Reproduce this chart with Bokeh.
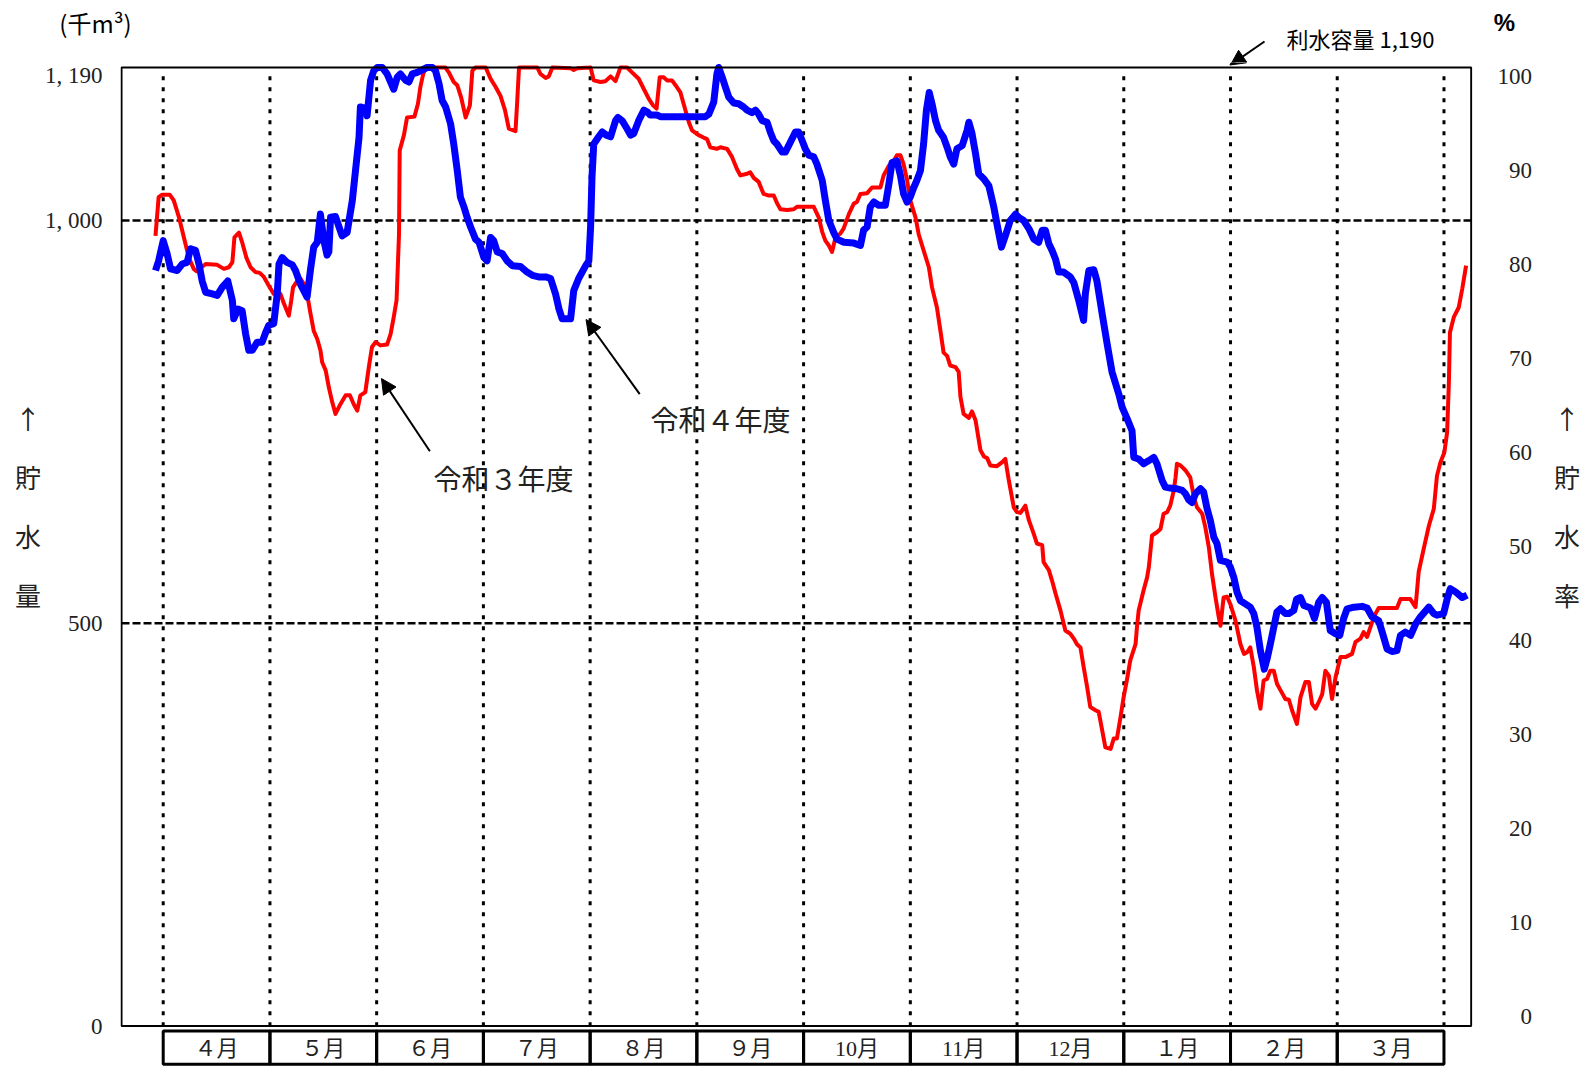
from bokeh.plotting import figure
from bokeh.layouts import column
from bokeh.models import (Range1d, LinearAxis, FixedTicker, Label, Arrow, NormalHead)
from bokeh.core.properties import value
from bokeh.embed import file_html
from bokeh.resources import INLINE

# ---------------- data (千m3, x = day position from 4/1 on a uniform month scale) ----------------
month_labels = ["４月", "５月", "６月", "７月", "８月", "９月", "10月", "11月", "12月", "１月", "２月", "３月"]
month_edges = [0, 30.42, 60.83, 91.25, 121.67, 152.08, 182.5, 212.92, 243.33, 273.75, 304.17, 334.58, 365]

left_ticks = [0, 500, 1000, 1190]
left_tick_text = ["0", "500", "1, 000", "1, 190"]
right_ticks = [0, 10, 20, 30, 40, 50, 60, 70, 80, 90, 100]
capacity = 1190

# 令和3年度 (red)
red_day = [-2.2, -1.3, -0.3, 1.9, 3.0, 4.5, 5.9, 7.3, 8.7, 9.5, 12.1, 15.4, 17.3, 18.7, 19.7, 20.3, 21.6,
           22.5, 23.7, 24.9, 26.3, 27.5, 28.7, 30.1, 31.5, 33.4, 34.4, 35.8, 36.5, 37.0, 38.2, 39.1, 40.1,
           41.0, 42.0, 42.9, 43.9, 44.8, 45.3, 46.3, 47.2, 48.2, 49.1, 50.5, 52.0, 53.2, 54.3, 55.3, 56.2,
           57.6, 58.6, 59.5, 60.5, 61.9, 63.8, 64.8, 65.7, 66.5, 67.2, 67.4, 68.6, 69.5, 71.6, 72.6, 73.3,
           74.1, 74.8, 80.4, 81.4, 82.8, 83.8, 84.9, 86.2, 87.4, 88.1, 89.0, 91.9, 93.3, 94.7, 96.1, 97.4,
           98.5, 100.4, 100.9, 101.4, 106.6, 107.5, 109.0, 109.9, 110.9, 116.1, 117.0, 118.0, 121.8, 122.7,
           124.6, 126.0, 127.5, 128.9, 130.3, 132.2, 133.6, 135.5, 137.0, 138.4, 139.6, 140.6, 141.5, 142.6,
           143.6, 145.0, 146.0, 147.4, 148.3, 149.8, 150.7, 152.6, 154.0, 155.0, 155.9, 157.8, 158.8, 160.7,
           162.1, 163.5, 164.5, 166.4, 167.3, 168.3, 169.7, 171.1, 172.6, 174.0, 175.0, 175.9, 177.8, 179.7,
           180.6, 185.4, 186.8, 187.8, 188.7, 189.7, 190.6, 191.6, 193.0, 193.9, 195.4, 196.8, 197.7, 198.7,
           200.6, 202.0, 204.4, 205.3, 206.8, 208.2, 209.1, 210.1, 211.0, 212.0, 212.9, 214.4, 215.3, 216.7,
           218.2, 219.1, 220.5, 221.5, 222.4, 223.4, 224.3, 225.8, 226.7, 227.2, 228.1, 229.6, 230.5, 231.5,
           232.9, 233.9, 234.8, 235.7, 237.6, 239.1, 240.0, 241.0, 242.4, 243.3, 244.3, 245.7, 246.7, 248.1,
           249.0, 250.5, 250.9, 252.4, 253.3, 254.3, 255.7, 257.1, 258.5, 259.5, 260.4, 261.4, 262.3, 263.3,
           264.2, 265.7, 266.6, 267.6, 268.5, 270.0, 270.9, 271.8, 272.8, 273.7, 274.7, 275.6, 277.1, 277.5,
           278.0, 279.4, 280.4, 280.9, 281.8, 283.2, 284.2, 285.1, 286.1, 287.0, 288.0, 288.5, 288.9, 289.9,
           291.3, 292.7, 293.7, 294.6, 296.1, 297.0, 298.0, 298.9, 299.9, 300.8, 301.3, 302.2, 303.2, 304.1,
           305.6, 307.0, 308.0, 308.9, 309.8, 310.8, 311.7, 312.7, 313.6, 314.6, 315.5, 316.5, 317.4, 318.4,
           319.8, 320.8, 321.7, 323.1, 324.1, 325.5, 326.5, 327.4, 328.4, 329.3, 330.3, 331.2, 332.2, 333.1,
           334.1, 335.5, 336.9, 338.8, 339.8, 341.2, 342.1, 343.1, 344.5, 345.5, 346.4, 351.6, 352.6, 355.4,
           356.9, 357.8, 359.2, 360.7, 362.1, 363.0, 364.0, 365.1, 365.9, 366.4, 366.7, 367.8, 369.2, 370.2,
           371.3]
red_val = [981, 1029, 1032, 1032, 1025, 1004, 979, 954, 940, 937, 946, 945, 940, 942, 948, 979, 985,
           973, 954, 942, 936, 935, 930, 919, 909, 909, 897, 882, 901, 917, 925, 928, 921,
           909, 884, 863, 853, 839, 824, 814, 793, 774, 760, 772, 783, 783, 772, 764, 783,
           787, 818, 843, 849, 845, 846, 859, 880, 901, 983, 1087, 1106, 1128, 1129, 1145, 1166,
           1182, 1190, 1190, 1184, 1172, 1168, 1153, 1128, 1143, 1186, 1190, 1190, 1176, 1166, 1155, 1137,
           1114, 1111, 1149, 1190, 1190, 1182, 1177, 1179, 1190, 1189, 1187, 1189, 1190, 1174,
           1172, 1173, 1179, 1173, 1190, 1190, 1184, 1176, 1163, 1151, 1143, 1139, 1178, 1178,
           1174, 1174, 1168, 1159, 1145, 1122, 1112, 1106, 1103, 1101, 1091, 1089, 1091, 1089,
           1079, 1064, 1056, 1058, 1060, 1053, 1048, 1033, 1031, 1031, 1021, 1014, 1013, 1014,
           1017, 1017, 1004, 986, 975, 969, 961, 979, 984, 990, 1008, 1021, 1023, 1033,
           1034, 1041, 1041, 1056, 1068, 1074, 1081, 1081, 1070, 1050, 1025, 1004, 983, 963,
           942, 917, 892, 863, 836, 832, 820, 818, 812, 781, 760, 755, 763, 752,
           715, 707, 705, 696, 695, 700, 704, 677, 644, 638, 637, 646, 628, 611,
           599, 597, 576, 566, 553, 537, 516, 491, 487, 481, 474, 470, 446, 421,
           396, 392, 390, 367, 346, 344, 357, 357, 383, 408, 431, 454, 474, 495,
           516, 541, 557, 570, 609, 613, 617, 636, 638, 646, 665, 681, 698, 696,
           690, 681, 657, 644, 636, 619, 594, 561, 532, 508, 497, 532, 533, 524,
           503, 474, 462, 464, 470, 446, 417, 394, 429, 431, 441, 441, 425, 417,
           406, 405, 392, 375, 408, 427, 427, 400, 394, 402, 412, 441, 435, 406,
           433, 458, 458, 462, 477, 481, 489, 483, 501, 512, 519, 519, 530, 530,
           520, 564, 592, 621, 642, 683, 700, 712, 737, 799, 861, 880, 892, 915,
           944]

# 令和4年度 (blue)
blue_day = [-2.2, -1.3, 0.0, 1.1, 2.1, 4.0, 5.4, 6.8, 7.8, 9.2, 10.2, 11.1, 12.1, 14.0, 15.4, 16.8, 18.4,
            19.7, 20.1, 21.3, 22.5, 23.5, 24.4, 25.4, 26.8, 28.2, 29.2, 30.1, 31.5, 32.5, 33.0, 33.9, 35.3,
            36.8, 37.7, 39.1, 41.0, 42.0, 42.9, 43.9, 44.8, 45.8, 46.7, 47.2, 47.7, 49.1, 50.1, 51.0, 52.4,
            53.9, 54.8, 55.8, 56.2, 57.7, 58.1, 59.1, 60.0, 61.0, 62.4, 63.8, 65.7, 66.7, 67.6, 69.1, 70.0,
            71.0, 72.4, 75.2, 76.7, 77.6, 78.6, 79.5, 80.5, 81.9, 82.8, 83.8, 84.7, 85.7, 86.6, 87.6, 89.0,
            90.0, 91.4, 92.3, 93.3, 94.2, 95.2, 96.6, 98.0, 99.5, 101.8, 103.7, 105.2, 107.0, 109.0, 110.4,
            111.8, 112.8, 113.7, 116.1, 117.0, 118.4, 120.4, 121.3, 121.8, 122.2, 122.7, 124.1, 125.1, 126.3,
            127.5, 128.9, 129.6, 130.8, 132.2, 133.2, 134.1, 135.5, 137.0, 137.9, 138.8, 140.7, 141.7, 154.5,
            155.5, 156.9, 157.8, 158.3, 159.3, 160.2, 161.2, 162.6, 164.0, 165.4, 166.4, 167.8, 168.8, 169.7,
            170.7, 172.1, 173.0, 174.0, 174.9, 176.4, 177.3, 178.7, 180.2, 181.1, 182.1, 183.0, 184.0, 185.4,
            186.3, 187.8, 188.7, 189.7, 191.1, 192.0, 194.0, 196.8, 198.7, 199.6, 200.6, 201.5, 202.5, 203.9,
            205.8, 206.8, 207.7, 209.1, 210.1, 211.0, 212.0, 212.9, 213.9, 214.8, 215.8, 216.7, 217.5, 218.3,
            219.1, 220.1, 221.0, 222.4, 223.4, 224.3, 225.3, 226.2, 227.7, 229.1, 229.6, 230.5, 231.5, 232.4,
            233.8, 235.3, 236.7, 237.6, 238.9, 240.0, 241.4, 242.9, 243.8, 245.2, 246.7, 248.1, 249.5, 250.5,
            251.4, 252.4, 253.3, 254.3, 255.2, 256.6, 258.5, 259.5, 260.9, 262.3, 262.8, 263.8, 265.2, 266.1,
            267.6, 269.0, 270.4, 272.3, 273.3, 274.7, 276.1, 276.6, 278.0, 279.4, 280.9, 282.3, 283.2, 284.7,
            285.6, 287.0, 288.9, 290.4, 291.3, 292.3, 293.2, 294.2, 295.6, 296.5, 297.5, 298.4, 299.4, 300.3,
            301.3, 303.2, 304.1, 305.1, 306.0, 307.0, 308.4, 309.8, 310.8, 311.7, 312.7, 313.8, 314.6, 315.5,
            316.5, 317.4, 318.4, 319.8, 320.8, 322.2, 323.0, 324.1, 325.1, 327.0, 328.1, 329.3, 330.3, 331.5,
            332.6, 334.1, 335.3, 336.4, 337.4, 339.3, 341.7, 343.1, 344.5, 346.4, 347.4, 348.8, 350.2, 351.6,
            352.6, 354.0, 355.5, 356.9, 358.3, 360.7, 362.1, 363.0, 364.9, 365.9, 366.8, 368.3, 370.2, 371.6]
blue_val = [938, 950, 975, 959, 940, 938, 946, 948, 965, 963, 946, 925, 911, 909, 907, 917, 925,
            901, 878, 890, 888, 859, 839, 839, 849, 849, 861, 870, 872, 909, 946, 954, 948,
            945, 938, 921, 905, 940, 967, 973, 1008, 975, 957, 961, 1004, 1005, 992, 981, 985,
            1025, 1062, 1103, 1141, 1139, 1130, 1174, 1186, 1190, 1190, 1182, 1163, 1178, 1182, 1174, 1172,
            1182, 1184, 1190, 1190, 1186, 1170, 1149, 1141, 1120, 1095, 1062, 1029, 1017, 1004, 992, 977,
            973, 954, 950, 979, 975, 961, 959, 950, 944, 943, 936, 932, 930, 930, 928,
            909, 890, 878, 878, 913, 928, 944, 950, 992, 1054, 1095, 1104, 1110, 1106,
            1104, 1124, 1128, 1124, 1114, 1106, 1108, 1124, 1137, 1135, 1131, 1131, 1129, 1129,
            1132, 1147, 1182, 1190, 1178, 1166, 1153, 1146, 1145, 1141, 1137, 1134, 1137, 1132,
            1124, 1122, 1110, 1099, 1095, 1085, 1085, 1097, 1110, 1110, 1099, 1089, 1081, 1079,
            1070, 1050, 1025, 1000, 985, 977, 973, 972, 969, 988, 992, 1017, 1023, 1019,
            1019, 1045, 1072, 1074, 1056, 1033, 1023, 1029, 1041, 1050, 1062, 1095, 1137, 1159,
            1145, 1124, 1112, 1103, 1091, 1079, 1070, 1089, 1093, 1112, 1122, 1108, 1083, 1058,
            1052, 1043, 1017, 996, 967, 981, 1000, 1008, 1004, 1000, 990, 977, 973, 988,
            988, 971, 963, 952, 936, 936, 930, 923, 901, 876, 909, 938, 939, 925,
            884, 847, 812, 785, 768, 754, 739, 706, 704, 698, 702, 706, 698, 677,
            669, 668, 667, 665, 661, 653, 650, 661, 667, 663, 642, 628, 607, 599,
            578, 576, 570, 557, 539, 528, 524, 520, 512, 495, 466, 443, 456, 474,
            495, 514, 518, 512, 512, 516, 530, 532, 522, 519, 506, 526, 532, 526,
            491, 487, 485, 506, 518, 520, 521, 519, 508, 503, 489, 468, 465, 466,
            485, 489, 485, 499, 508, 520, 512, 510, 512, 530, 543, 539, 532, 535]

# ---------------- styling helpers ----------------
SERIF = value("'Liberation Serif', 'Noto Sans CJK JP'")
CJK = "Noto Sans CJK JP"
TXT = "#222222"
STRIP_H = 62


def tlab(fig, x, y, t, size, font=CJK, style="normal", color=TXT):
    fig.add_layout(Label(x=x, y=y, text=t, text_font=font, text_font_size=size, text_font_style=style,
                         text_align="center", text_baseline="middle", text_color=color))


def cap_arrow(fig, xs, ys, xe, ye):
    fig.add_layout(Arrow(end=NormalHead(size=15, fill_color="black", line_color="black"),
                         x_start=xs, y_start=ys, x_end=xe, y_end=ye,
                         line_color="black", line_width=2))


# ---------------- top strip (unit label, capacity note, %) ----------------
top = figure(width=1592, height=STRIP_H, output_backend="svg", toolbar_location=None,
             x_range=Range1d(0, 1592), y_range=Range1d(STRIP_H, 0),
             x_axis_location=None, y_axis_location=None, min_border=0, title=None)
top.grid.visible = False
top.outline_line_color = None
top.background_fill_color = "white"
top.border_fill_color = "white"

tlab(top, 95, 22, "(千m³)", "24px", color="black")
tlab(top, 1360, 37, "利水容量 1,190", "22px", color="black")
tlab(top, 1504, 22, "%", "24px", font="Liberation Sans", style="bold", color="black")
cap_arrow(top, 1264, 41, 1230, 64.5)

# ---------------- main chart ----------------
p = figure(width=1592, height=1067 - STRIP_H, output_backend="svg", toolbar_location=None,
           x_range=Range1d(-12.17, 373.13), y_range=Range1d(-51.5, 1196.2),
           x_axis_location=None, min_border_left=120, min_border_right=120,
           min_border_top=0, min_border_bottom=0, title=None)
p.grid.visible = False
p.outline_line_color = None
p.background_fill_color = "white"
p.border_fill_color = "white"
p.extra_y_ranges = {"pct": Range1d(-5.43, 101.49)}

for fig in (top, p):
    try:
        fig.frame_align = False
    except AttributeError:
        pass


def style_axis(ax, standoff):
    ax.axis_line_color = None
    ax.major_tick_line_color = None
    ax.minor_tick_line_color = None
    ax.major_tick_out = 0
    ax.major_tick_in = 0
    ax.minor_tick_out = 0
    ax.minor_tick_in = 0
    ax.major_label_standoff = standoff
    ax.major_label_text_font = "Liberation Serif"
    ax.major_label_text_font_size = "23px"
    ax.major_label_text_color = TXT
    ax.axis_label_orientation = "horizontal"
    ax.axis_label_text_font = CJK
    ax.axis_label_text_font_size = "26px"
    ax.axis_label_text_font_style = "normal"
    ax.axis_label_text_color = TXT
    ax.axis_label_text_line_height = 1.6


ya = p.yaxis[0]
ya.ticker = FixedTicker(ticks=left_ticks)
ya.major_label_overrides = {t: s for t, s in zip(left_ticks, left_tick_text)}
style_axis(ya, 18)
ya.axis_label = "↑\n貯\n水\n量\n\u3000\n\u3000"
ya.axis_label_standoff = 1

ra = LinearAxis(y_range_name="pct", ticker=FixedTicker(ticks=right_ticks))
ra.major_label_overrides = {t: "\u2007" * (3 - len(str(t))) + str(t) for t in right_ticks}
style_axis(ra, 25)
ra.axis_label = "↑\n貯\n水\n率\n\u3000\n\u3000"
ra.axis_label_standoff = 19
p.add_layout(ra, "right")

x_left, x_right = -11.88, 372.76

# month dotted lines
p.segment(x0=month_edges, x1=month_edges, y0=[1179] * len(month_edges), y1=[0] * len(month_edges),
          line_color="black", line_width=3, line_dash="4 7")
# dashed reference lines
p.segment(x0=[x_left, x_left], x1=[x_right, x_right], y0=[1000, 500], y1=[1000, 500],
          line_color="black", line_width=2.5, line_dash="8 3")

# data lines
p.line(red_day, red_val, line_color="#FF0000", line_width=4, line_join="round")
p.line(blue_day, blue_val, line_color="#0000FF", line_width=7, line_join="round")

# plot border
p.quad(left=[x_left], right=[x_right], bottom=[0], top=[capacity], fill_color=None,
       line_color="black", line_width=2)

# month row
p.quad(left=month_edges[:-1], right=month_edges[1:], top=[-6.2] * 12, bottom=[-47.6] * 12,
       fill_color=None, line_color="black", line_width=3)
mid = [(a + b) / 2 for a, b in zip(month_edges[:-1], month_edges[1:])]
p.text(x=mid, y=[-28] * 12, text=month_labels, text_font=SERIF, text_font_size=value("22px"),
       text_align="center", text_baseline="middle", text_color=TXT)

# series annotations
tlab(p, 97.0, 680, "令和３年度", "28px")
tlab(p, 158.8, 753, "令和４年度", "28px")
for xs, ys, xe, ye in [(76.0, 713.6, 62.2, 803.8), (135.8, 784.5, 120.5, 877.1)]:
    p.add_layout(Arrow(end=NormalHead(size=15, fill_color="black", line_color="black"),
                       x_start=xs, y_start=ys, x_end=xe, y_end=ye,
                       line_color="black", line_width=2))
# the capacity arrow continues into the chart area (same arrow, drawn in chart units)
cap_arrow(p, 313.85, 1222.2, 304.0, 1193.1)

open("out.html", "w").write(file_html(column(top, p, spacing=0), INLINE))
